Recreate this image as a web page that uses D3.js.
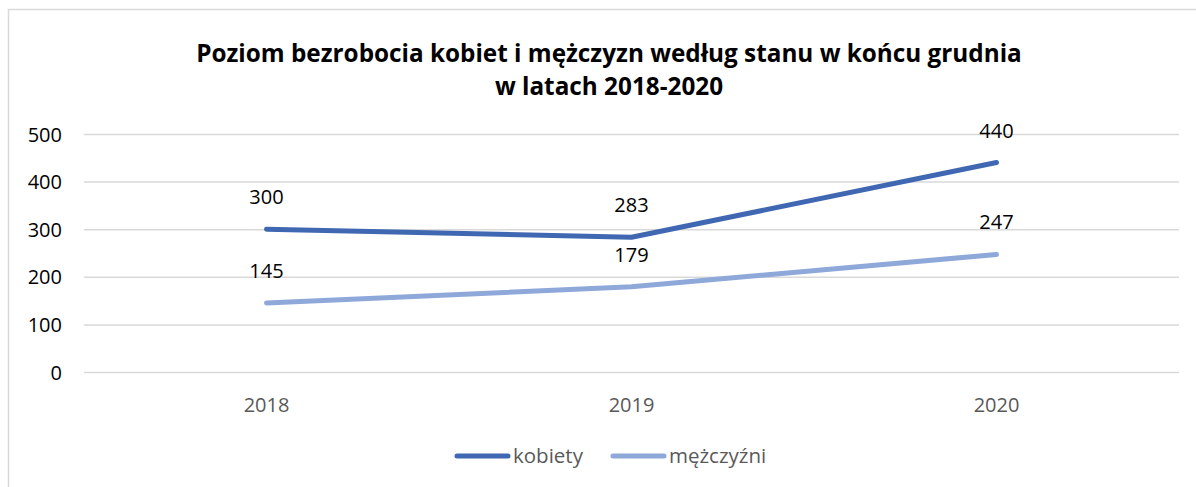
<!DOCTYPE html>
<html><head><meta charset="utf-8">
<script src="https://cdn.jsdelivr.net/npm/d3@7"></script>
<style>body{margin:0;background:#fff}svg{display:block}</style>
</head><body>
<svg id="c" width="1196" height="487"></svg>
<script>
const categories = ["2018", "2019", "2020"];
const kobiety = [300, 283, 440];
const mezczyzni = [145, 179, 247];
const yTicks = [0, 100, 200, 300, 400, 500];
const seriesNames = ["kobiety", "mężczyźni"];
const colors = ["#4068B2", "#8FA8DA"];

const svg = d3.select("#c");
const font = "Open Sans, Liberation Sans, sans-serif";

// outer border
svg.append("path").attr("d", "M8.5,487 V9.5 H1196").attr("fill","none").attr("stroke","#d9d9d9").attr("stroke-width",1.5);

// title
const title = svg.append("text").attr("text-anchor","middle").attr("font-family",font).attr("font-weight","bold").attr("font-size",24.3).attr("fill","#000");
title.append("tspan").attr("x",609).attr("y",62).text("Poziom bezrobocia kobiet i mężczyzn według stanu w końcu grudnia");
title.append("tspan").attr("x",609).attr("y",95).text("w latach 2018-2020");

const x = d3.scaleBand().domain(categories).range([84, 1179]);
const y = d3.scaleLinear().domain([0, 500]).range([372, 134]);

// gridlines
svg.append("g").selectAll("line").data(yTicks).join("line")
  .attr("x1",84).attr("x2",1179).attr("y1",d=>y(d)+0.5).attr("y2",d=>y(d)+0.5)
  .attr("stroke","#d9d9d9").attr("stroke-width",1.5);

// y axis
const yAxis = svg.append("g").attr("transform","translate(62,0)")
  .call(d3.axisLeft(y).tickValues(yTicks).tickSize(0).tickPadding(0));
yAxis.select(".domain").remove();
yAxis.selectAll("text").attr("font-family",font).attr("font-size",20).attr("fill","#000").attr("dy","0.35em");

// x axis
const xAxis = svg.append("g").attr("transform","translate(0,405)")
  .call(d3.axisBottom(x).tickSize(0).tickPadding(0));
xAxis.select(".domain").remove();
xAxis.selectAll("text").attr("font-family",font).attr("font-size",20).attr("fill","#595959").attr("dy","0.35em");

const line = d3.line().x((d,i)=>x(categories[i])+x.bandwidth()/2).y(d=>y(d));
const series = [mezczyzni, kobiety];
const scol = [colors[1], colors[0]];
series.forEach((s,k)=>{
  svg.append("path").datum(s).attr("d",line).attr("fill","none")
    .attr("stroke",scol[k]).attr("stroke-width",5).attr("stroke-linecap","round").attr("stroke-linejoin","round");
});
[kobiety, mezczyzni].forEach(s=>{
  svg.append("g").selectAll("text").data(s).join("text")
    .attr("x",(d,i)=>x(categories[i])+x.bandwidth()/2)
    .attr("y",d=>y(d)-25)
    .attr("text-anchor","middle").attr("font-family",font).attr("font-size",20).attr("fill","#000")
    .text(d=>d);
});

// legend
const legX = [455, 611];
seriesNames.forEach((n,i)=>{
  svg.append("line").attr("x1",legX[i]+2).attr("x2",legX[i]+53).attr("y1",456).attr("y2",456)
    .attr("stroke",colors[i]).attr("stroke-width",5).attr("stroke-linecap","round");
  svg.append("text").attr("x",legX[i]+58).attr("y",463).attr("font-family",font).attr("font-size",20.5).attr("fill","#595959").text(n);
});
</script>
</body></html>
